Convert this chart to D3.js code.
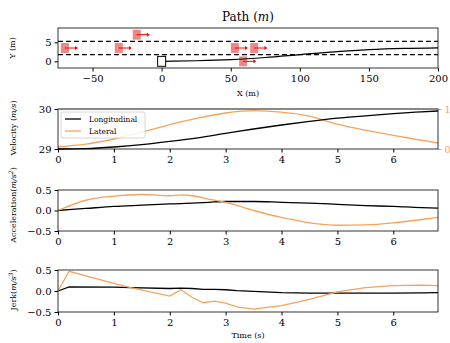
<!DOCTYPE html>
<html>
<head>
<meta charset="utf-8">
<script src="https://cdn.jsdelivr.net/npm/d3@7"></script>
<style>
  body { margin: 0; background: #fff; }
  text { font-family: "DejaVu Serif", serif; }
</style>
</head>
<body>
<div class="chart"></div>
<script>
// ---- data ----
const pathX = [0, 25, 50, 75, 100, 125, 150, 175, 200];
const pathY = [0, 0.15, 0.45, 1.0, 1.75, 2.5, 3.07, 3.4, 3.55];
const obstX = [-70, -31, -18, 53, 67, 59];
const obstY = [3.5, 3.5, 7, 3.5, 3.5, 0];
const laneLines = [1.75, 5.25];

const velT = [0, 0.5, 1, 1.5, 2, 2.5, 3, 3.5, 4, 4.5, 5, 5.5, 6, 6.5, 6.8];
const velLon = [29, 29.01, 29.05, 29.11, 29.19, 29.28, 29.39, 29.5, 29.6, 29.69, 29.77, 29.83, 29.885, 29.93, 29.95];
const velLat = [0.05, 0.12, 0.25, 0.42, 0.61, 0.77, 0.9, 0.96, 0.92, 0.82, 0.62, 0.47, 0.34, 0.22, 0.15];

const accT = [0, 0.5, 1, 1.5, 2, 2.2, 2.4, 2.7, 3, 3.5, 4, 4.5, 5, 5.5, 6, 6.5, 6.8];
const accLon = [0, 0.05, 0.1, 0.13, 0.16, 0.17, 0.18, 0.2, 0.22, 0.22, 0.2, 0.18, 0.15, 0.12, 0.1, 0.07, 0.06];
const accLat = [0, 0.25, 0.35, 0.39, 0.36, 0.38, 0.36, 0.28, 0.2, 0, -0.17, -0.3, -0.36, -0.35, -0.3, -0.22, -0.17];

const jerkT = [0, 0.2, 1, 1.3, 2, 2.2, 2.4, 2.6, 2.8, 3, 3.2, 3.5, 4, 4.5, 5, 5.5, 6, 6.5, 6.8];
const jerkLon = [0, 0.1, 0.09, 0.08, 0.06, 0.07, 0.06, 0.04, 0.04, 0.03, 0.01, -0.01, -0.04, -0.05, -0.05, -0.05, -0.05, -0.045, -0.04];
const jerkLat = [0, 0.47, 0.18, 0.08, -0.12, 0.03, -0.15, -0.28, -0.24, -0.29, -0.38, -0.43, -0.35, -0.2, -0.02, 0.08, 0.13, 0.14, 0.13];

const xTicksPath = [-50, 0, 50, 100, 150, 200];
const tTicks = [0, 1, 2, 3, 4, 5, 6];

const orange = "#f5a35c";
const W = 450, H = 343;
const left = 58, right = 438;

const svg = d3.select(".chart").append("svg")
  .attr("width", W).attr("height", H);

function axisStyle(g) {
  g.selectAll("text").attr("font-family", "DejaVu Serif").attr("font-size", "10px").attr("fill", "#000");
  g.selectAll("line").attr("stroke", "#000");
  g.select(".domain").remove();
}

function frame(top, bottom) {
  svg.append("rect").attr("x", left).attr("y", top)
    .attr("width", right - left).attr("height", bottom - top)
    .attr("fill", "none").attr("stroke", "#000").attr("stroke-width", 0.8);
}

function ylabel(x, cy, parts, size) {
  const t = svg.append("text")
    .attr("transform", "translate(" + x + "," + cy + ") rotate(-90)")
    .attr("text-anchor", "middle").attr("font-size", size || "8px");
  parts.forEach(p => {
    const s = t.append("tspan").text(p.t);
    if (p.i) s.attr("font-style", "italic");
    if (p.sup) s.attr("baseline-shift", "super").attr("font-size", "6px");
  });
}

// ---- panel 1: path ----
const p1 = {top: 28, bottom: 68};
const x1 = d3.scaleLinear().domain([-75, 200]).range([left, right]);
const y1 = d3.scaleLinear().domain([-1.75, 8.75]).range([p1.bottom, p1.top]);

const g1 = svg.append("g");
g1.append("defs").append("clipPath").attr("id", "c1")
  .append("rect").attr("x", left).attr("y", p1.top).attr("width", right - left).attr("height", p1.bottom - p1.top);

const plot1 = g1.append("g").attr("clip-path", "url(#c1)");
laneLines.forEach(v => {
  plot1.append("line").attr("x1", left).attr("x2", right)
    .attr("y1", y1(v)).attr("y2", y1(v))
    .attr("stroke", "#000").attr("stroke-width", 1.3).attr("stroke-dasharray", "5,3");
});

const carL = 5.8, carW = 2.6;
obstX.forEach((ox, i) => {
  const oy = obstY[i];
  plot1.append("rect")
    .attr("x", x1(ox - carL / 2)).attr("y", y1(oy + carW / 2))
    .attr("width", x1(ox + carL / 2) - x1(ox - carL / 2))
    .attr("height", y1(oy - carW / 2) - y1(oy + carW / 2))
    .attr("fill", "#f08080").attr("opacity", 0.95);
  const ax0 = x1(ox), ax1 = x1(ox + 9.5), ay = y1(oy);
  plot1.append("line").attr("x1", ax0).attr("x2", ax1 - 2).attr("y1", ay).attr("y2", ay)
    .attr("stroke", "red").attr("stroke-width", 1);
  plot1.append("path")
    .attr("d", "M" + ax1 + "," + ay + "L" + (ax1 - 3) + "," + (ay - 2) + "L" + (ax1 - 3) + "," + (ay + 2) + "Z")
    .attr("fill", "red");
});

const pathData = pathX.map((x, i) => [x, pathY[i]]);
plot1.append("path").datum(pathData)
  .attr("d", d3.line().x(d => x1(d[0])).y(d => y1(d[1])).curve(d3.curveMonotoneX))
  .attr("fill", "none").attr("stroke", "#000").attr("stroke-width", 1.2);

plot1.append("rect")
  .attr("x", x1(-carL / 2)).attr("y", y1(carW / 2))
  .attr("width", x1(carL / 2) - x1(-carL / 2))
  .attr("height", y1(-carW / 2) - y1(carW / 2))
  .attr("fill", "#fff").attr("stroke", "#000").attr("stroke-width", 1);

frame(p1.top, p1.bottom);
g1.append("g").attr("transform", "translate(0," + p1.bottom + ")")
  .call(d3.axisBottom(x1).tickValues(xTicksPath).tickSize(3.5).tickPadding(3)
    .tickFormat(d => d < 0 ? "\u2212" + Math.abs(d) : d))
  .call(axisStyle);
g1.append("g").attr("transform", "translate(" + left + ",0)")
  .call(d3.axisLeft(y1).tickValues([0, 5]).tickSize(3.5).tickPadding(3))
  .call(axisStyle);

const title = svg.append("text").attr("x", 248).attr("y", 21).attr("text-anchor", "middle").attr("font-size", "12px");
title.append("tspan").text("Path (");
title.append("tspan").text("m").attr("font-style", "italic");
title.append("tspan").text(")");
svg.append("text").attr("x", 248).attr("y", 96).attr("text-anchor", "middle").attr("font-size", "8px").text("X (m)");
ylabel(15, 48, [{t: "Y (m)"}]);

// ---- time panels ----
const xt = d3.scaleLinear().domain([0, 6.8]).range([left, right]);

function timePanel(top, bottom, dom, ticks, fmt, series) {
  const y = d3.scaleLinear().domain(dom).range([bottom, top]);
  const g = svg.append("g");
  series.forEach(s => {
    const ys = s.scale || y;
    g.append("path").datum(s.t.map((t, i) => [t, s.v[i]]))
      .attr("d", d3.line().x(d => xt(d[0])).y(d => ys(d[1])).curve(s.curve || d3.curveMonotoneX))
      .attr("fill", "none").attr("stroke", s.c).attr("stroke-width", 1.3);
  });
  frame(top, bottom);
  g.append("g").attr("transform", "translate(0," + bottom + ")")
    .call(d3.axisBottom(xt).tickValues(tTicks).tickSize(3.5).tickPadding(3).tickFormat(d3.format("d")))
    .call(axisStyle);
  g.append("g").attr("transform", "translate(" + left + ",0)")
    .call(d3.axisLeft(y).tickValues(ticks).tickSize(3.5).tickPadding(3).tickFormat(fmt))
    .call(axisStyle);
  return {g, y};
}

// velocity
const p2 = {top: 109, bottom: 149};
const yLat = d3.scaleLinear().domain([0, 1]).range([p2.bottom, p2.top]);
const v = timePanel(p2.top, p2.bottom, [29, 30], [29, 30], d3.format("d"), [
  {t: velT, v: velLat, c: orange, scale: yLat},
  {t: velT, v: velLon, c: "#000"}
]);
svg.append("line").attr("x1", left).attr("x2", right).attr("y1", p2.top).attr("y2", p2.top)
  .attr("stroke", "#888").attr("stroke-width", 2);
const rAx = v.g.append("g").attr("transform", "translate(" + right + ",0)")
  .call(d3.axisRight(yLat).tickValues([0, 1]).tickSize(3.5).tickPadding(3))
  .call(axisStyle);
rAx.selectAll("text").attr("fill", orange);
rAx.selectAll("line").attr("stroke", orange);

const leg = svg.append("g").attr("transform", "translate(61,112)");
leg.append("rect").attr("width", 84).attr("height", 26).attr("rx", 2)
  .attr("fill", "#fff").attr("fill-opacity", 0.85).attr("stroke", "#ccc").attr("stroke-width", 0.8);
[["Longitudinal", "#000"], ["Lateral", orange]].forEach((e, i) => {
  leg.append("line").attr("x1", 4).attr("x2", 20).attr("y1", 7 + i * 12).attr("y2", 7 + i * 12)
    .attr("stroke", e[1]).attr("stroke-width", 1.3);
  leg.append("text").attr("x", 28).attr("y", 10 + i * 12).attr("font-size", "7.5px").text(e[0]);
});
ylabel(16, 128, [{t: "Velocity ("}, {t: "m/s", i: true}, {t: ")"}]);

// acceleration
const fmt1 = d => (d < 0 ? "\u2212" : "") + Math.abs(d).toFixed(1);
timePanel(190, 231, [-0.5, 0.5], [-0.5, 0, 0.5], fmt1, [
  {t: accT, v: accLon, c: "#000"},
  {t: accT, v: accLat, c: orange}
]);
ylabel(16, 205, [{t: "Acceleration("}, {t: "m/s", i: true}, {t: "2", i: true, sup: true}, {t: ")"}]);

// jerk
timePanel(270, 312, [-0.5, 0.5], [-0.5, 0, 0.5], fmt1, [
  {t: jerkT, v: jerkLon, c: "#000", curve: d3.curveLinear},
  {t: jerkT, v: jerkLat, c: orange, curve: d3.curveLinear}
]);
ylabel(16, 290, [{t: "Jerk("}, {t: "m/s", i: true}, {t: "3", i: true, sup: true}, {t: ")"}]);
svg.append("text").attr("x", 248).attr("y", 338).attr("text-anchor", "middle").attr("font-size", "8px").text("Time (s)");
</script>
</body>
</html>
